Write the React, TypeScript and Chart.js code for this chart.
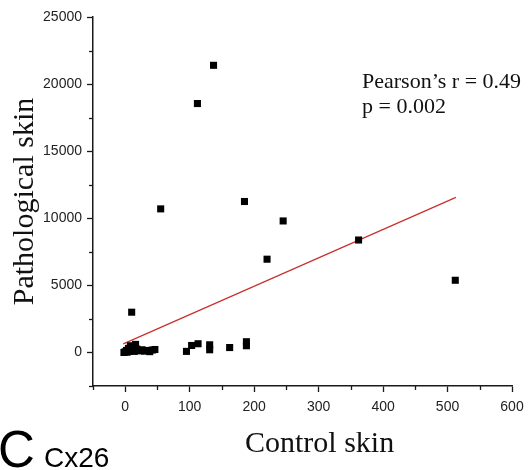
import React, { useEffect, useRef } from "react";
import { Chart, registerables } from "chart.js";

Chart.register(...registerables);

// Control skin (x) vs Pathological skin (y) expression values
const controlSkin = [
  -2, 0, 2, 3, 5, 6, 8, 10, 12, 14, 16, 18, 20, 23, 26, 30, 34, 38, 42, 46,
  10, 55, 95, 103, 113, 112, 131, 131, 137, 162, 185, 188, 188, 220, 245, 362, 512,
];
const pathologicalSkin = [
  0, 50, 150, 20, 300, 100, 500, 200, 350, 80, 600, 250, 150, 120, 200, 100, 150, 60, 180, 220,
  3000, 10700, 80, 520, 650, 18550, 570, 200, 21400, 365, 11250, 800, 500, 6950, 9800, 8380, 5380,
];

// Linear fit line end points
const fitX = [-3, 513];
const fitY = [640, 11560];

const xMin = -50;
const xMax = 600;
const xStep = 50;
const xLabelEvery = 100;
const yMin = -2500;
const yMax = 25000;
const yStep = 2500;
const yLabelEvery = 5000;

const xTitle = "Control skin";
const yTitle = "Pathological skin";
const statLines = ["Pearson\u2019s r = 0.49", "p = 0.002"];
const panelLetter = "C";
const panelGene = "Cx26";

const AXIS_COLOR = "#1a1a1a";
const SANS = '"Liberation Sans", Arial, sans-serif';
const SERIF = '"Liberation Serif", "Times New Roman", serif';

const minorTicksPlugin = {
  id: "minorTicks",
  afterDraw(chart: any) {
    const ctx = chart.ctx;
    const xs = chart.scales.x;
    const ys = chart.scales.y;
    ctx.save();
    ctx.strokeStyle = AXIS_COLOR;
    ctx.lineWidth = 1.3;
    xs.ticks.forEach((t: any) => {
      if (t.value % xLabelEvery !== 0) {
        const px = Math.round(xs.getPixelForValue(t.value)) + 0.5;
        ctx.beginPath();
        ctx.moveTo(px, xs.top);
        ctx.lineTo(px, xs.top + 4);
        ctx.stroke();
      }
    });
    ys.ticks.forEach((t: any) => {
      if (t.value % yLabelEvery !== 0) {
        const py = Math.round(ys.getPixelForValue(t.value)) + 0.5;
        ctx.beginPath();
        ctx.moveTo(ys.right, py);
        ctx.lineTo(ys.right - 4, py);
        ctx.stroke();
      }
    });
    ctx.restore();
  },
};

const textPlugin = {
  id: "extraText",
  afterDraw(chart: any) {
    const ctx = chart.ctx;
    ctx.save();
    ctx.fillStyle = "#111";
    ctx.textAlign = "left";
    ctx.textBaseline = "alphabetic";
    ctx.font = `22px ${SERIF}`;
    ctx.fillText(statLines[0], 362, 88);
    ctx.fillText(statLines[1], 362, 113);
    ctx.font = `30px ${SERIF}`;
    ctx.fillText(xTitle, 245, 452);
    ctx.fillStyle = "#000";
    ctx.font = `51px ${SANS}`;
    ctx.fillText(panelLetter, -2, 467);
    ctx.font = `28px ${SANS}`;
    ctx.fillText(panelGene, 44, 467);
    ctx.restore();
  },
};

export default function App() {
  const canvasRef = useRef<HTMLCanvasElement | null>(null);

  useEffect(() => {
    const canvas = canvasRef.current;
    if (!canvas) return;
    const points = controlSkin.map((x, i) => ({ x, y: pathologicalSkin[i] }));
    const fit = fitX.map((x, i) => ({ x, y: fitY[i] }));

    const chart = new Chart(canvas, {
      type: "scatter",
      data: {
        datasets: [
          {
            type: "line",
            data: fit,
            borderColor: "#c8302c",
            borderWidth: 1.2,
            pointRadius: 0,
            fill: false,
            order: 2,
          } as any,
          {
            data: points,
            pointStyle: "rect",
            pointRadius: 5,
            pointBorderWidth: 0,
            borderWidth: 0,
            backgroundColor: "#000",
            pointBackgroundColor: "#000",
            order: 1,
          } as any,
        ],
      },
      options: {
        animation: false,
        responsive: false,
        devicePixelRatio: 1,
        layout: { padding: { top: 17, right: 19, left: 0, bottom: 0 } },
        plugins: {
          legend: { display: false },
          tooltip: { enabled: false },
        },
        scales: {
          x: {
            type: "linear",
            min: xMin,
            max: xMax,
            afterFit: (s: any) => {
              s.height = 84;
            },
            border: { display: true, color: AXIS_COLOR, width: 1.5 },
            grid: {
              display: true,
              drawOnChartArea: false,
              drawTicks: true,
              tickLength: 6,
              tickWidth: 1.3,
              tickColor: (c: any) =>
                c.tick && c.tick.value % xLabelEvery === 0 ? AXIS_COLOR : "rgba(0,0,0,0)",
            },
            ticks: {
              stepSize: xStep,
              autoSkip: false,
              maxRotation: 0,
              padding: 7,
              color: "#222",
              font: { family: SANS, size: 14 },
              callback: (v: any) => (Number(v) % xLabelEvery === 0 ? String(v) : ""),
            },
          },
          y: {
            type: "linear",
            min: yMin,
            max: yMax,
            afterFit: (s: any) => {
              s.width = 93;
            },
            border: { display: true, color: AXIS_COLOR, width: 1.5 },
            grid: {
              display: true,
              drawOnChartArea: false,
              drawTicks: true,
              tickLength: 6,
              tickWidth: 1.3,
              tickColor: (c: any) =>
                c.tick && c.tick.value % yLabelEvery === 0 ? AXIS_COLOR : "rgba(0,0,0,0)",
            },
            ticks: {
              stepSize: yStep,
              autoSkip: false,
              padding: 5,
              color: "#222",
              font: { family: SANS, size: 14 },
              callback: (v: any) => (Number(v) % yLabelEvery === 0 ? String(v) : ""),
            },
            title: {
              display: true,
              text: yTitle,
              color: "#111",
              font: { family: SERIF, size: 30, weight: "normal" },
              padding: { top: 7, bottom: 0 },
            },
          },
        },
      },
      plugins: [minorTicksPlugin, textPlugin],
    } as any);

    return () => {
      chart.destroy();
    };
  }, []);

  return (
    <div style={{ position: "absolute", left: 0, top: 0, width: 531, height: 470, background: "#fff" }}>
      <canvas ref={canvasRef} width={531} height={470} style={{ display: "block" }} />
    </div>
  );
}
